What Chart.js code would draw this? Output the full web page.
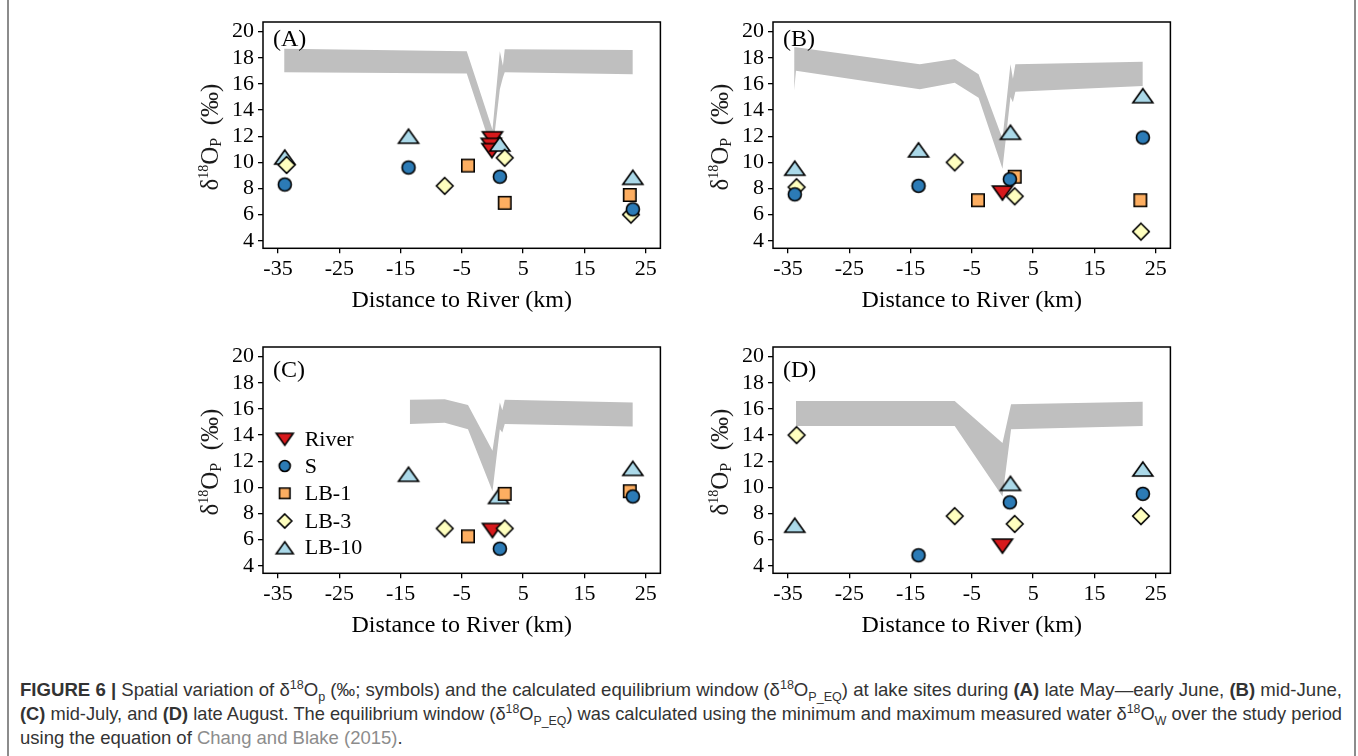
<!DOCTYPE html>
<html>
<head>
<meta charset="utf-8">
<script src="https://cdn.jsdelivr.net/npm/chart.js@4.4.1/dist/chart.umd.min.js"></script>
<style>
  html, body { margin: 0; padding: 0; background: #fff; }
  body { width: 1358px; height: 756px; position: relative; overflow: hidden; }
  canvas { position: absolute; }
  .frame { position: absolute; left: 7px; top: -5px; width: 1345px; height: 770px;
           border-left: 2px solid #8c8c8c; border-right: 2px solid #8c8c8c; }
  .cap { position: absolute; left: 20px; white-space: nowrap; color: #333;
         font-family: "Liberation Sans", Arial, sans-serif; font-size: 18.5px; line-height: 24px;
         transform-origin: 0 0; }
  .cap sup, .cap sub { font-size: 12.5px; line-height: 0; }
  .cap .ref { color: #8c8c8c; }
</style>
</head>
<body>
<div class="frame"></div>
<canvas id="panelA" width="490" height="305" style="left:183px;top:13px"></canvas>
<canvas id="panelB" width="490" height="305" style="left:693px;top:13px"></canvas>
<canvas id="panelC" width="490" height="305" style="left:183px;top:338px"></canvas>
<canvas id="panelD" width="490" height="305" style="left:693px;top:338px"></canvas>

<div class="cap fit" style="top:678px"><b>FIGURE 6 |</b> Spatial variation of δ<sup>18</sup>O<sub>p</sub> (‰; symbols) and the calculated equilibrium window (δ<sup>18</sup>O<sub>P_EQ</sub>) at lake sites during <b>(A)</b> late May—early June, <b>(B)</b> mid-June,</div>
<div class="cap fit" style="top:702px"><b>(C)</b> mid-July, and <b>(D)</b> late August. The equilibrium window (δ<sup>18</sup>O<sub>P_EQ</sub>) was calculated using the minimum and maximum measured water δ<sup>18</sup>O<sub>W</sub> over the study period</div>
<div class="cap" style="top:726px">using the equation of <span class="ref">Chang and Blake (2015)</span>.</div>

<script>
const xTicks = [-35, -25, -15, -5, 5, 15, 25];
const yTicks = [4, 6, 8, 10, 12, 14, 16, 18, 20];

const seriesNames = ['River', 'S', 'LB-1', 'LB-3', 'LB-10'];
const seriesFill  = ['#d7191c', '#2c7bb6', '#fdae61', '#ffffbf', '#abd9e9'];
const seriesShape = ['triDown', 'circle', 'square', 'diamond', 'triUp'];
const seriesOrder = [5, 1, 3, 2, 4]; // lower = drawn later (on top)

// (A) late May - early June   [distance to river (km), d18Op]
const aRiver = [[0.0, 11.8], [-0.2, 11.3], [-0.1, 10.9]];
const aS     = [[-33.9, 8.3], [-13.7, 9.6], [1.2, 8.9], [22.9, 6.4]];
const aLB1   = [[-4.0, 9.75], [2.0, 6.9], [22.4, 7.5]];
const aLB3   = [[-33.6, 9.8], [-7.8, 8.2], [2.0, 10.35], [22.6, 6.0]];
const aLB10  = [[-33.9, 10.4], [-13.7, 12.0], [1.2, 11.4], [22.9, 8.85]];
const aBandX  = [-34.0, -4.2, 0.0, 1.2, 1.7, 2.0, 22.9];
const aBandLo = [16.9, 16.8, 10.8, 15.6, 16.5, 16.9, 16.75];
const aBandHi = [18.7, 18.5, 12.5, 18.5, 17.4, 18.65, 18.6];

// (B) mid-June
const bRiver = [[0.0, 7.65]];
const bS     = [[-33.9, 7.55], [-13.7, 8.2], [1.2, 8.7], [22.9, 11.9]];
const bLB1   = [[-4.0, 7.1], [2.0, 8.9], [22.5, 7.1]];
const bLB3   = [[-33.6, 8.1], [-7.8, 10.0], [2.0, 7.4], [22.6, 4.7]];
const bLB10  = [[-33.9, 9.55], [-13.7, 10.95], [1.3, 12.3], [22.9, 15.1]];
const bBandX  = [-34.0, -33.7, -13.5, -7.8, -3.9, 0.0, 1.3, 1.7, 2.1, 22.9];
const bBandLo = [15.5, 17.0, 15.6, 16.1, 14.95, 9.5, 15.0, 14.6, 15.4, 15.85];
const bBandHi = [18.8, 18.8, 17.5, 17.9, 16.75, 11.8, 17.5, 16.4, 17.5, 17.7];

// (C) mid-July
const cRiver = [[0.0, 6.7]];
const cS     = [[1.2, 5.3], [22.9, 9.3]];
const cLB1   = [[-4.0, 6.25], [2.0, 9.5], [22.4, 9.7]];
const cLB3   = [[-7.8, 6.85], [2.0, 6.85]];
const cLB10  = [[-13.7, 11.0], [1.0, 9.3], [22.9, 11.45]];
const cBandX  = [-13.5, -7.8, -4.0, 0.0, 1.2, 1.6, 2.0, 22.9];
const cBandLo = [14.85, 14.95, 14.45, 9.7, 14.45, 14.2, 14.85, 14.65];
const cBandHi = [16.7, 16.75, 16.3, 12.8, 16.5, 15.9, 16.7, 16.5];

// (D) late August
const dRiver = [[0.0, 5.5]];
const dS     = [[-13.7, 4.8], [1.2, 8.85], [22.9, 9.5]];
const dLB1   = [];
const dLB3   = [[-33.6, 14.0], [-7.8, 7.8], [2.0, 7.2], [22.6, 7.8]];
const dLB10  = [[-33.9, 7.1], [1.3, 10.3], [22.9, 11.4]];
const dBandX  = [-33.7, -7.8, 0.0, 1.4, 22.9];
const dBandLo = [14.7, 14.7, 9.3, 14.45, 14.7];
const dBandHi = [16.6, 16.6, 13.4, 16.35, 16.55];

const serif = 'Liberation Serif';

// stretch/squeeze the two full caption lines to the text column width
document.querySelectorAll('.cap.fit').forEach(el => {
  const w = el.getBoundingClientRect().width;
  el.style.transform = 'scaleX(' + (1322 / w) + ')';
});

// small canvas sprites used as point styles (R-like pch 21-25 symbols)
function markerSprite(shape, fill, k) {
  const c = document.createElement('canvas');
  c.width = 28; c.height = 28;
  const g = c.getContext('2d');
  const m = 14;
  g.beginPath();
  if (shape === 'circle') {
    g.arc(m, m, 6.5 * k, 0, Math.PI * 2);
  } else if (shape === 'square') {
    g.rect(m - 6.2 * k, m - 6.2 * k, 12.4 * k, 12.4 * k);
  } else if (shape === 'diamond') {
    const r = 8.3 * k;
    g.moveTo(m, m - r); g.lineTo(m + r, m); g.lineTo(m, m + r); g.lineTo(m - r, m);
    g.closePath();
  } else {
    const hw = 10 * k, hh = 7 * k;
    const s = shape === 'triUp' ? 1 : -1;
    g.moveTo(m, m - s * hh); g.lineTo(m + hw, m + s * hh); g.lineTo(m - hw, m + s * hh);
    g.closePath();
  }
  g.fillStyle = fill;
  g.fill();
  g.lineWidth = 1.6;
  g.strokeStyle = '#000';
  g.stroke();
  return c;
}

const plotSprites = seriesShape.map((s, i) => markerSprite(s, seriesFill[i], 1));
const legendSprites = seriesShape.map((s, i) => markerSprite(s, seriesFill[i], 0.85));

// rotated y title: δ18OP (‰) with super/subscript
function drawYTitle(ctx, x, y) {
  const big = '25px "' + serif + '"';
  const parts = [
    ['δ', big, 0],
    ['18', '14px "' + serif + '"', -10],
    ['O', big, 0],
    ['P', '16px "' + serif + '"', 3],
    ['  (‰)', big, 0],
  ];
  ctx.save();
  ctx.translate(x, y);
  ctx.rotate(-Math.PI / 2);
  ctx.fillStyle = '#1a1a1a';
  ctx.textBaseline = 'alphabetic';
  let total = 0;
  parts.forEach(p => { ctx.font = p[1]; total += ctx.measureText(p[0]).width; });
  let u = -total / 2;
  parts.forEach(p => {
    ctx.font = p[1];
    ctx.fillText(p[0], u, p[2]);
    u += ctx.measureText(p[0]).width;
  });
  ctx.restore();
}

const panelDecor = {
  id: 'panelDecor',
  afterDraw(chart, args, opts) {
    const { ctx, chartArea: a } = chart;
    ctx.save();
    // box around the plotting region
    ctx.strokeStyle = '#000';
    ctx.lineWidth = 1.5;
    ctx.strokeRect(a.left, a.top, a.right - a.left, a.bottom - a.top);
    // panel letter
    ctx.fillStyle = '#000';
    ctx.font = '24px "' + serif + '"';
    ctx.textBaseline = 'middle';
    ctx.fillText(opts.tag, a.left + 10, a.top + opts.tagDy);
    ctx.restore();

    drawYTitle(ctx, a.left - 45, (a.top + a.bottom) / 2 + 2);

    if (opts.legend) {
      const rows = [92.3, 119, 146.3, 174, 200.7];
      ctx.save();
      ctx.font = '22px "' + serif + '"';
      ctx.fillStyle = '#000';
      ctx.textBaseline = 'middle';
      seriesNames.forEach((name, i) => {
        const sp = legendSprites[i];
        const yy = a.top + rows[i];
        ctx.drawImage(sp, a.left + 21.7 - sp.width / 2, yy - sp.height / 2);
        ctx.fillText(name, a.left + 41.7, yy + 1);
      });
      ctx.restore();
    }
  }
};

function toXY(pairs) {
  return pairs.map(p => ({ x: p[0], y: p[1] }));
}

function axisStyle() {
  return {
    grid: { drawOnChartArea: false, drawTicks: true, tickLength: 5, color: '#000', lineWidth: 1.3 },
    border: { display: false },
  };
}

function makePanel(id, tag, tagDy, series, bandX, bandLo, bandHi, legend) {
  const datasets = [
    {
      type: 'line',
      data: bandX.map((x, i) => ({ x: x, y: bandLo[i] })),
      borderColor: 'rgba(0,0,0,0)',
      pointRadius: 0,
      fill: false,
      order: 10,
    },
    {
      type: 'line',
      data: bandX.map((x, i) => ({ x: x, y: bandHi[i] })),
      borderColor: 'rgba(0,0,0,0)',
      backgroundColor: '#bfbfbf',
      pointRadius: 0,
      fill: '-1',
      order: 10,
    },
  ];
  series.forEach((pts, i) => {
    datasets.push({
      type: 'scatter',
      label: seriesNames[i],
      data: toXY(pts),
      pointStyle: plotSprites[i],
      pointRadius: 8,
      order: seriesOrder[i],
    });
  });

  return new Chart(document.getElementById(id), {
    type: 'scatter',
    data: { datasets: datasets },
    options: {
      responsive: false,
      animation: false,
      devicePixelRatio: 1,
      layout: { padding: { left: 0, top: 8, right: 12.6, bottom: 0 } },
      plugins: {
        legend: { display: false },
        tooltip: { enabled: false },
        panelDecor: { tag: tag, tagDy: tagDy, legend: legend },
      },
      scales: {
        x: {
          type: 'linear',
          min: -37.45,
          max: 27.4,
          ...axisStyle(),
          afterBuildTicks: s => { s.ticks = xTicks.map(v => ({ value: v })); },
          afterFit: s => { s.height = 69.7; s.paddingLeft = 0; s.paddingRight = 0; },
          ticks: { font: { family: serif, size: 22 }, color: '#000', padding: 3, maxRotation: 0, autoSkip: false },
          title: {
            display: true,
            text: 'Distance to River (km)',
            font: { family: serif, size: 24 },
            color: '#000',
            padding: { top: 0, bottom: 3 },
          },
        },
        y: {
          type: 'linear',
          min: 3.42,
          max: 20.74,
          ...axisStyle(),
          afterBuildTicks: s => { s.ticks = yTicks.map(v => ({ value: v })); },
          afterFit: s => { s.width = 80; s.paddingTop = 0; s.paddingBottom = 0; },
          ticks: { font: { family: serif, size: 22 }, color: '#000', padding: 4, autoSkip: false },
        },
      },
    },
    plugins: [panelDecor],
  });
}

makePanel('panelA', '(A)', 18, [aRiver, aS, aLB1, aLB3, aLB10], aBandX, aBandLo, aBandHi, false);
makePanel('panelB', '(B)', 18, [bRiver, bS, bLB1, bLB3, bLB10], bBandX, bBandLo, bBandHi, false);
makePanel('panelC', '(C)', 24, [cRiver, cS, cLB1, cLB3, cLB10], cBandX, cBandLo, cBandHi, true);
makePanel('panelD', '(D)', 24, [dRiver, dS, dLB1, dLB3, dLB10], dBandX, dBandLo, dBandHi, false);
</script>
</body>
</html>
